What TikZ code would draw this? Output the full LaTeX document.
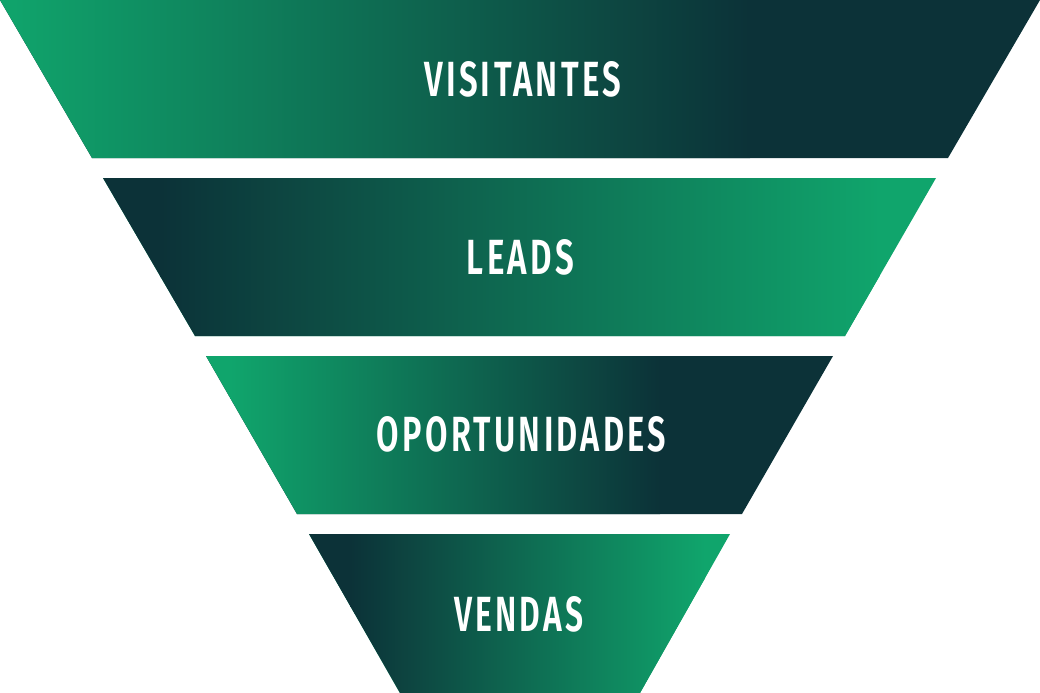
\documentclass[tikz,border=0pt]{standalone}
\usepackage{fontspec}
\newfontfamily\funnelfont{Fira Sans SemiBold}[LetterSpace=10]
\usepackage{graphicx}
\definecolor{fgreen}{RGB}{16,165,108}
\definecolor{fdark}{RGB}{12,50,56}
\newlength{\px}\setlength{\px}{0.75pt}
\newcommand{\funnellabel}[2]{\resizebox{#1\px}{35\px}{\fontsize{10pt}{12pt}\funnelfont #2\kern-1pt}}
\tikzset{
  lbl/.style={inner sep=0pt, text=white, anchor=center},
}
\begin{document}
\begin{tikzpicture}[x=0.75pt,y=-0.75pt]
\useasboundingbox (0,0) rectangle (1040,693);
% Trapezoid 1
\fill[fdark] (0,0) -- (1040,0) -- (948,158) -- (92,158) -- cycle;
\begin{scope}
\clip (0,0) -- (1040,0) -- (948,158) -- (92,158) -- cycle;
\shade[left color=fgreen, right color=fdark] (0,-1) rectangle (750,159);
\end{scope}
% Trapezoid 2
\fill[fgreen] (103,178) -- (936,178) -- (845,336) -- (195,336) -- cycle;
\begin{scope}
\clip (103,178) -- (936,178) -- (845,336) -- (195,336) -- cycle;
\fill[fdark] (100,177) rectangle (160.5,337);
\shade[left color=fdark, right color=fgreen] (160,177) rectangle (880,337);
\end{scope}
% Trapezoid 3
\fill[fdark] (206,356) -- (833,356) -- (742,514) -- (297,514) -- cycle;
\begin{scope}
\clip (206,356) -- (833,356) -- (742,514) -- (297,514) -- cycle;
\fill[fgreen] (200,355) rectangle (230.5,515);
\shade[left color=fgreen, right color=fdark] (230,355) rectangle (660,515);
\end{scope}
% Trapezoid 4
\fill[fgreen] (309,534) -- (730,534) -- (640,693) -- (400,693) -- cycle;
\begin{scope}
\clip (309,534) -- (730,534) -- (640,693) -- (400,693) -- cycle;
\fill[fdark] (305,533) rectangle (350.5,694);
\shade[left color=fdark, right color=fgreen] (350,533) rectangle (705,694);
\end{scope}
% Labels
\node[lbl] (visitantes) at (521,79.5) {\funnellabel{194}{VISITANTES}};
\node[lbl] (leads) at (519,257.5) {\funnellabel{104}{LEADS}};
\node[lbl] (oportunidades) at (520,434.5) {\funnellabel{286}{OPORTUNIDADES}};
\node[lbl] (vendas) at (517,614) {\funnellabel{126}{VENDAS}};
\end{tikzpicture}
\end{document}
